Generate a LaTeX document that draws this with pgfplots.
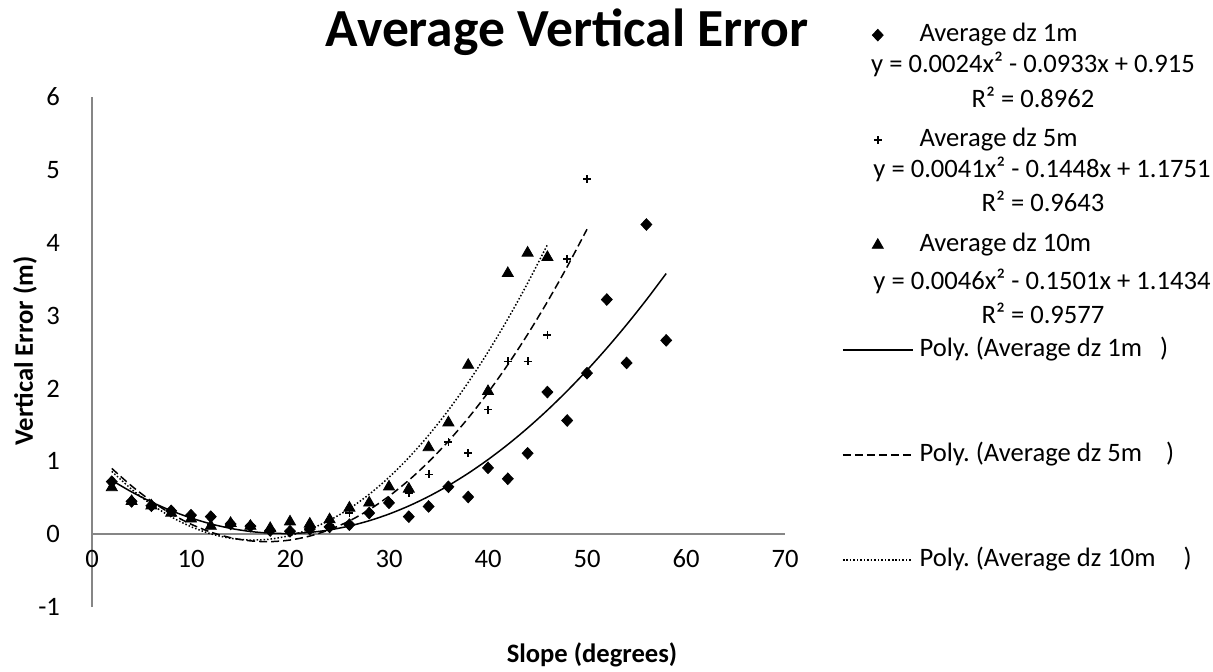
\documentclass[border=0pt]{standalone}
\usepackage{fontspec}
\setmainfont{Carlito}
\usepackage{pgfplots}
\pgfplotsset{compat=1.18}
\definecolor{axgray}{HTML}{868686}
\newcommand\basefs{\fontsize{13.3pt}{16pt}\selectfont}
\begin{document}
\begin{tikzpicture}
\useasboundingbox (0,0) rectangle (606.5pt,335.5pt);
\begin{axis}[
  at={(46pt,32pt)}, anchor=south west,
  scale only axis, width=346.5pt, height=255pt,
  xmin=0, xmax=70, ymin=-1, ymax=6,
  axis lines=middle,
  axis line style={-, draw=axgray, line width=0.75pt},
  hide obscured x ticks=false, hide obscured y ticks=false,
  major tick length=0pt,
  xtick={0,10,...,70}, xticklabels={0,10,20,30,40,50,60,70},
  ytick={-1,0,...,6}, yticklabels={-1,0,1,2,3,4,5,6},
  tick label style={font=\basefs, text=black},
  xticklabel style={anchor=north, text height=9pt, text depth=0pt, inner sep=0pt, yshift=-7.5pt},
  yticklabel style={xshift=-12.5pt},
  clip=false,
  legend image code/.code={\draw[mark repeat=2,mark phase=2,#1] plot coordinates {(0pt,0pt) (17.5pt,0pt) (35pt,0pt)};},
  legend style={at={(1.0823,1.1439)}, anchor=north west, draw=none, fill=none,
    inner sep=0pt, outer sep=0pt, font=\basefs, row sep=41pt, column sep=3pt,
    nodes={inner sep=0pt, text height=9pt, text depth=2.5pt}},
  legend cell align=left,
]
% Average dz 1m
\addplot[only marks, mark=diamond*, mark size=2.9pt, mark options={fill=black, draw=black, xscale=1.25}] coordinates {
(2,0.72)(4,0.45)(6,0.39)(8,0.32)(10,0.26)(12,0.24)(14,0.14)(16,0.11)(18,0.05)(20,0.04)
(22,0.07)(24,0.10)(26,0.13)(28,0.29)(30,0.43)(32,0.24)(34,0.38)(36,0.65)(38,0.51)(40,0.91)
(42,0.76)(44,1.11)(46,1.95)(48,1.56)(50,2.21)(52,3.22)(54,2.35)(56,4.25)(58,2.66)};
\addlegendentry{Average dz 1m}
% Average dz 5m
\addplot[only marks, mark=+, mark size=2pt, mark options={draw=black, line width=0.9pt}] coordinates {
(2,0.70)(4,0.45)(6,0.38)(8,0.30)(10,0.23)(12,0.13)(14,0.12)(16,0.09)(18,0.05)(20,0.06)
(22,0.08)(24,0.13)(26,0.29)(28,0.27)(30,0.45)(32,0.57)(34,0.82)(36,1.26)(38,1.11)(40,1.71)
(42,2.37)(44,2.37)(46,2.73)(48,3.78)(50,4.87)};
\addlegendentry{Average dz 5m}
% Average dz 10m
\addplot[only marks, mark=triangle*, mark size=3.2pt, mark options={fill=black, draw=black}] coordinates {
(2,0.64)(4,0.45)(6,0.39)(8,0.29)(10,0.21)(12,0.11)(14,0.15)(16,0.11)(18,0.08)(20,0.17)
(22,0.14)(24,0.20)(26,0.36)(28,0.43)(30,0.65)(32,0.62)(34,1.19)(36,1.53)(38,2.32)(40,1.96)
(42,3.58)(44,3.86)(46,3.80)};
\addlegendentry{Average dz 10m}
% Poly. 1m
\addplot[black, line width=0.75pt, smooth, no marks] coordinates {
(2,0.738)(4,0.5802)(6,0.4416)(8,0.3222)(10,0.222)(12,0.141)(14,0.0792)(16,0.0366)(18,0.0132)(20,0.009)
(22,0.024)(24,0.0582)(26,0.1116)(28,0.1842)(30,0.276)(32,0.387)(34,0.5172)(36,0.6666)(38,0.8352)(40,1.023)
(42,1.23)(44,1.4562)(46,1.7016)(48,1.9662)(50,2.25)(52,2.553)(54,2.8752)(56,3.2166)(58,3.5772)};
\addlegendentry{Poly.\ (Average dz 1m\hspace{9pt})}
% Poly. 5m
\addplot[black, line width=0.75pt, dash pattern=on 4pt off 2pt, smooth, no marks] coordinates {
(2,0.9019)(4,0.6615)(6,0.4539)(8,0.2791)(10,0.1371)(12,0.0279)(14,-0.0485)(16,-0.0921)(18,-0.1029)(20,-0.0809)
(22,-0.0261)(24,0.0615)(26,0.1819)(28,0.3351)(30,0.5211)(32,0.7399)(34,0.9915)(36,1.2759)(38,1.5931)(40,1.9431)
(42,2.3259)(44,2.7415)(46,3.1899)(48,3.6711)(50,4.1851)};
\addlegendentry{Poly.\ (Average dz 5m\hspace{12pt})}
% Poly. 10m
\addplot[black, line width=0.75pt, dash pattern=on 0.75pt off 1pt, smooth, no marks] coordinates {
(2,0.8616)(4,0.6166)(6,0.4084)(8,0.237)(10,0.1024)(12,0.0046)(14,-0.0564)(16,-0.0806)(18,-0.068)(20,-0.0186)
(22,0.0676)(24,0.1906)(26,0.3504)(28,0.547)(30,0.7804)(32,1.0506)(34,1.3576)(36,1.7014)(38,2.082)(40,2.4994)
(42,2.9536)(44,3.4446)(46,3.9724)};
\addlegendentry{Poly.\ (Average dz 10m\hspace{14pt})}
\end{axis}
\node[anchor=east, font=\fontsize{26.8pt}{30pt}\selectfont\bfseries] at (408pt,319.5pt) {Average Vertical Error};
\node[rotate=90, font=\basefs\bfseries] at (12.5pt,160pt) {Vertical Error (m)};
\node[font=\basefs\bfseries] at (296pt,8pt) {Slope (degrees)};
\node[font=\basefs] at (516.5pt,303.5pt) {y = 0.0024x² - 0.0933x + 0.915};
\node[font=\basefs] at (516.5pt,287pt) {R² = 0.8962};
\node[font=\basefs] at (521pt,251pt) {y = 0.0041x² - 0.1448x + 1.1751};
\node[font=\basefs] at (521.5pt,235pt) {R² = 0.9643};
\node[font=\basefs] at (521pt,195pt) {y = 0.0046x² - 0.1501x + 1.1434};
\node[font=\basefs] at (521.5pt,179pt) {R² = 0.9577};
\end{tikzpicture}
\end{document}
